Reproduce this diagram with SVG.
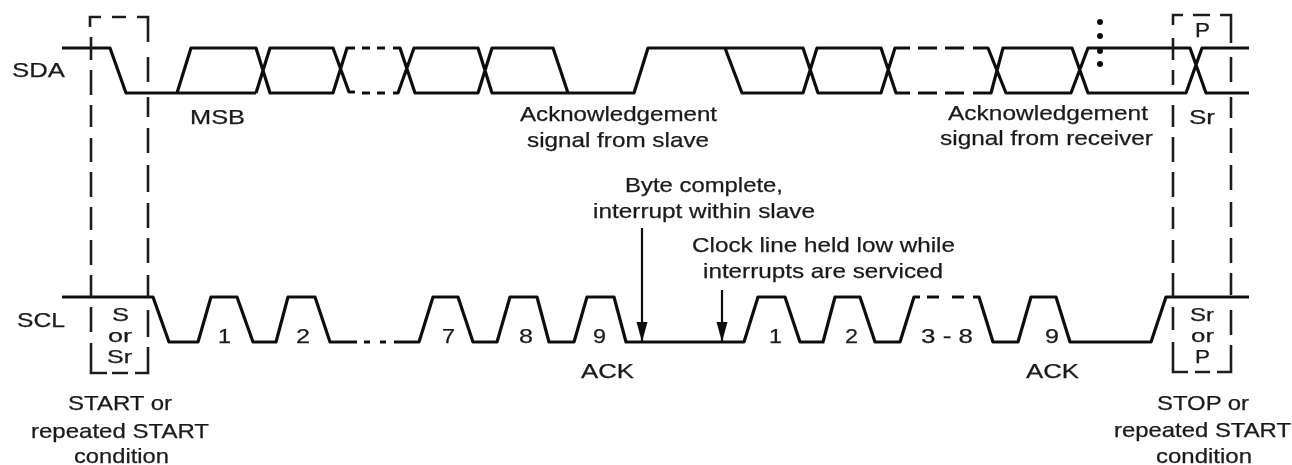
<svg xmlns="http://www.w3.org/2000/svg" width="1292" height="465" viewBox="0 0 1292 465">
<defs>
<filter id="soft" x="0" y="0" width="1292" height="465" filterUnits="userSpaceOnUse"><feGaussianBlur stdDeviation="0.55"/></filter>
<marker id="ah" markerUnits="userSpaceOnUse" markerWidth="20" markerHeight="12" refX="20" refY="6" orient="auto" viewBox="0 0 20 12"><path d="M0 0.5L20 6L0 11.5Z" fill="#111"/></marker>
</defs>
<style>
.sig{fill:none;stroke:#111;stroke-width:3.2;stroke-linejoin:round}
.dash{fill:none;stroke:#1a1a1a;stroke-width:2.6}
.arr{fill:none;stroke:#111;stroke-width:2.2}
.dot{fill:#111}
text{font-family:"Liberation Sans",Arial,sans-serif;font-size:21px;fill:#1a1a1a;stroke:#1a1a1a;stroke-width:.25}
text.tight{font-size:18px}
</style>
<rect width="1292" height="465" fill="#fff"/>
<g filter="url(#soft)">
<g id="sda-signal">
<path class="sig" d="M62 48H110L126 93H177L191 48H256L270 93H333L347 48H355M256 93L270 48H333L349 92H355M177 93H256M393 48H400L415 93H478L492 48H553L568 93H634L648 48H803L818 93H881L895 48H910M393 93H398L414 48H478L492 93H568M725 48L742 93H803L817 48H881L896 93H910M973 48H988L1006 93H1071L1088 48H1190L1206 93H1249M973 93H991L1003 48H1072L1088 93H1186L1202 48H1249"/>
<path class="sig" d="M362 48H370M377 48H385M362 93H370M377 93H385M918 48H937M945 48H964M918 93H937M945 93H964"/>
<circle class="dot" cx="1100" cy="22" r="3"/><circle class="dot" cx="1100" cy="36" r="3"/><circle class="dot" cx="1100" cy="51" r="3"/><circle class="dot" cx="1100" cy="64" r="3"/>
</g>
<g id="scl-signal">
<path class="sig" d="M62 297H153L169 342H198L211 297H237L253 342H276L288 297H315L330 342H357M394 342H419L433 297H458L473 342H497L510 297H537L549 342H574L587 297H614L626 342H744L758 297H785L800 342H823L835 297H860L875 342H900L914 297H920M973 297H979L993 342H1018L1031 297H1056L1070 342H1151L1166 297H1249"/>
<path class="sig" d="M364 342H370M380 342H386M927 297H939M952 297H964"/>
</g>
<g id="start-box">
<path class="dash" d="M90 27V17H101M112 17H126M137 17H148V42M148 57V82M148 97V117M148 128V153M148 165V192M148 203V228M148 238V263M148 275V297M148 310V337M148 347V373H135M128 373H112M107 373H91V343M91 332V307M91 297V275M91 265V240M91 230V207M91 197V172M91 162V138M91 127V105M91 95V70M91 60V37"/>
</g>
<g id="stop-box">
<path class="dash" d="M1173 25V15H1183M1193 15H1210M1220 15H1231V43M1231 57V82M1231 97V118M1231 128V153M1231 165V190M1231 202V227M1231 238V263M1231 273V295M1231 310V335M1231 345V372H1217M1210 372H1195M1188 372H1173V342M1173 330V307M1173 297V273M1173 263V240M1173 229V207M1173 197V172M1173 162V137M1173 127V105M1173 85V70M1173 60V38"/>
</g>
<g id="connectors">
<path class="arr" d="M642 228V342" marker-end="url(#ah)"/>
<path class="arr" d="M722 290V342" marker-end="url(#ah)"/>
</g>
<g id="labels">
<text x="12" y="77" textLength="53" lengthAdjust="spacingAndGlyphs">SDA</text>
<text x="17" y="327" textLength="48" lengthAdjust="spacingAndGlyphs">SCL</text>
<text x="190" y="124" textLength="55" lengthAdjust="spacingAndGlyphs">MSB</text>
<text x="520" y="121" textLength="197" lengthAdjust="spacingAndGlyphs">Acknowledgement</text>
<text x="527" y="147" textLength="182" lengthAdjust="spacingAndGlyphs">signal from slave</text>
<text x="948" y="120" textLength="200" lengthAdjust="spacingAndGlyphs">Acknowledgement</text>
<text x="940" y="145" textLength="213" lengthAdjust="spacingAndGlyphs">signal from receiver</text>
<text x="1195" y="37" textLength="15" lengthAdjust="spacingAndGlyphs">P</text>
<text x="1189" y="124" textLength="26" lengthAdjust="spacingAndGlyphs">Sr</text>
<text x="625" y="192" textLength="158" lengthAdjust="spacingAndGlyphs">Byte complete,</text>
<text x="593" y="218" textLength="222" lengthAdjust="spacingAndGlyphs">interrupt within slave</text>
<text x="692" y="252" textLength="263" lengthAdjust="spacingAndGlyphs">Clock line held low while</text>
<text x="703" y="278" textLength="240" lengthAdjust="spacingAndGlyphs">interrupts are serviced</text>
<text class="tight" x="112" y="321" textLength="17" lengthAdjust="spacingAndGlyphs">S</text>
<text class="tight" x="108" y="342" textLength="24" lengthAdjust="spacingAndGlyphs">or</text>
<text class="tight" x="107" y="363" textLength="25" lengthAdjust="spacingAndGlyphs">Sr</text>
<text class="tight" x="1190" y="321" textLength="24" lengthAdjust="spacingAndGlyphs">Sr</text>
<text class="tight" x="1191" y="342" textLength="23" lengthAdjust="spacingAndGlyphs">or</text>
<text class="tight" x="1195" y="363" textLength="15" lengthAdjust="spacingAndGlyphs">P</text>
<text x="218" y="343" textLength="13" lengthAdjust="spacingAndGlyphs">1</text>
<text x="296" y="343" textLength="14" lengthAdjust="spacingAndGlyphs">2</text>
<text x="442" y="343" textLength="13" lengthAdjust="spacingAndGlyphs">7</text>
<text x="519" y="343" textLength="14" lengthAdjust="spacingAndGlyphs">8</text>
<text x="593" y="343" textLength="13" lengthAdjust="spacingAndGlyphs">9</text>
<text x="769" y="343" textLength="13" lengthAdjust="spacingAndGlyphs">1</text>
<text x="845" y="343" textLength="13" lengthAdjust="spacingAndGlyphs">2</text>
<text x="921" y="343" textLength="52" lengthAdjust="spacingAndGlyphs">3 - 8</text>
<text x="1045" y="343" textLength="14" lengthAdjust="spacingAndGlyphs">9</text>
<text x="581" y="378" textLength="53" lengthAdjust="spacingAndGlyphs">ACK</text>
<text x="1026" y="378" textLength="53" lengthAdjust="spacingAndGlyphs">ACK</text>
<text x="68" y="410" textLength="104" lengthAdjust="spacingAndGlyphs">START or</text>
<text x="31" y="438" textLength="178" lengthAdjust="spacingAndGlyphs">repeated START</text>
<text x="74" y="463" textLength="95" lengthAdjust="spacingAndGlyphs">condition</text>
<text x="1157" y="410" textLength="92" lengthAdjust="spacingAndGlyphs">STOP or</text>
<text x="1114" y="437" textLength="177" lengthAdjust="spacingAndGlyphs">repeated START</text>
<text x="1156" y="463" textLength="96" lengthAdjust="spacingAndGlyphs">condition</text>
</g>
</g>
</svg>
